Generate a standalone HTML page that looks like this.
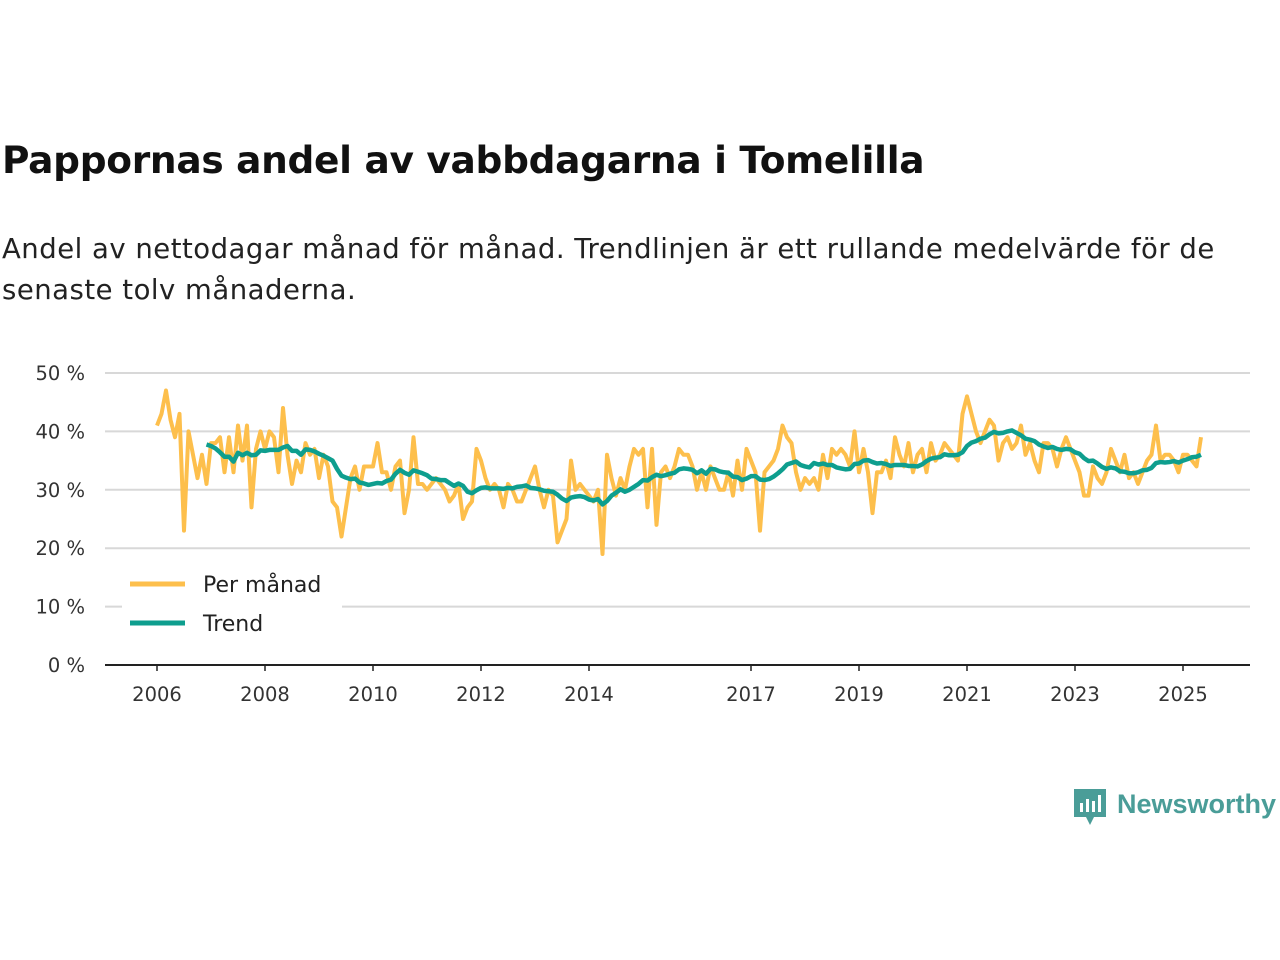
<!DOCTYPE html>
<html><head><meta charset="utf-8"><style>
body{margin:0;background:#fff;font-family:"DejaVu Sans","Liberation Sans",sans-serif;}
#wrap{position:relative;width:1280px;height:960px;overflow:hidden}
h1{position:absolute;left:2px;top:138px;margin:0;font-size:37.5px;font-weight:bold;color:#111;letter-spacing:-0.3px}
.sub{position:absolute;left:2px;top:229px;margin:0;font-size:27.5px;line-height:41px;color:#222;width:1260px;letter-spacing:0.5px}
</style></head><body><div id="wrap">
<h1>Pappornas andel av vabbdagarna i Tomelilla</h1>
<p class="sub">Andel av nettodagar månad för månad. Trendlinjen är ett rullande medelvärde för de senaste tolv månaderna.</p>
<svg id="chart" width="1280" height="960" style="position:absolute;left:0;top:0"></svg>
</div>
<script>
const startYear = 2006;
const monthly = [
41,43,47,42,39,43,23,40,36,32,36,31,
38,38,39,33,39,33,41,35,41,27,37,40,
37,40,39,33,44,36,31,35,33,38,36,37,
32,36,34,28,27,22,27,32,34,30,34,34,
34,38,33,33,30,34,35,26,30,39,31,31,
30,31,32,31,30,28,29,31,25,27,28,37,
35,32,30,31,30,27,31,30,28,28,30,32,
34,30,27,30,29,21,23,25,35,30,31,30,
29,28,30,19,36,32,29,32,30,34,37,36,
37,27,37,24,33,34,32,34,37,36,36,34,
30,33,30,34,32,30,30,33,29,35,30,37,
35,33,23,33,34,35,37,41,39,38,33,30,
32,31,32,30,36,32,37,36,37,36,34,40,
33,37,33,26,33,33,35,32,39,36,34,38,
33,36,37,33,38,35,36,38,37,36,35,43,
46,43,40,38,40,42,41,35,38,39,37,38,
41,36,38,35,33,38,38,37,34,37,39,37,
35,33,29,29,34,32,31,33,37,35,33,36,
32,33,31,33,35,36,41,35,36,36,35,33,
36,36,35,34,39];
const yTicks = [0,10,20,30,40,50];
const xTickYears = [2006,2008,2010,2012,2014,2017,2019,2021,2023,2025];

const svg = document.getElementById('chart');
const NS = 'http://www.w3.org/2000/svg';
const x = m => 157 + m * 4.5;
const y = v => 665 - v * 5.84;
function mk(tag, attrs){const e=document.createElementNS(NS,tag);for(const k in attrs)e.setAttribute(k,attrs[k]);svg.appendChild(e);return e;}

yTicks.forEach(t=>{
  const g = mk('line',{x1:105,x2:1250,y1:y(t),y2:y(t),stroke:t===0?'#222':'#d8d8d8','stroke-width':2});
  
  
  const l = mk('text',{x:85,y:y(t)+7,'text-anchor':'end','font-size':19.5,fill:'#333','font-family':'DejaVu Sans, sans-serif'});
  l.textContent = t + ' %';
  
  
});
xTickYears.forEach(yr=>{
  const xx = x((yr-startYear)*12);
  const tk = mk('line',{x1:xx,x2:xx,y1:665,y2:671,stroke:'#222','stroke-width':1.5});
  
  
  const l = mk('text',{x:xx,y:701,'text-anchor':'middle','font-size':19.5,fill:'#333','font-family':'DejaVu Sans, sans-serif'});
  l.textContent = yr;
  
  
});

const mp = mk('polyline',{points:monthly.map((v,i)=>x(i)+','+y(v)).join(' '),fill:'none',stroke:'#fdbf4c','stroke-width':4,'stroke-linejoin':'round'});



const trend = [];
for(let i=11;i<monthly.length;i++){let s=0;for(let j=i-11;j<=i;j++)s+=monthly[j];trend.push([i,s/12]);}
const tp = mk('polyline',{points:trend.map(p=>x(p[0])+','+y(p[1])).join(' '),fill:'none',stroke:'#0e9e8e','stroke-width':4.5,'stroke-linejoin':'round'});



const lb = mk('rect',{x:122,y:563,width:220,height:80,fill:'#fff'});


[['Per månad','#fdbf4c',584],['Trend','#0e9e8e',623]].forEach(([n,c,yy])=>{
  const ln = mk('line',{x1:130,x2:185,y1:yy,y2:yy,stroke:c,'stroke-width':5});
  
  
  const t = mk('text',{x:203,y:yy+8,'font-size':22,fill:'#222','font-family':'DejaVu Sans, sans-serif'});
  t.textContent = n;
  
  
});

const logo = mk('g',{});


logo.innerHTML = '<path d="M1074 789h32v28h-12l-4 8-4-8h-12z" fill="#4a9d98"/><rect x="1080" y="803" width="3" height="9" fill="#fff"/><rect x="1086" y="799" width="3" height="13" fill="#fff"/><rect x="1092" y="801" width="3" height="11" fill="#fff"/><rect x="1098" y="795" width="3" height="17" fill="#fff"/><text x="1117" y="813" font-size="27" font-weight="bold" fill="#4a9d98" font-family="Liberation Sans, sans-serif">Newsworthy</text>';
</script></body></html>
